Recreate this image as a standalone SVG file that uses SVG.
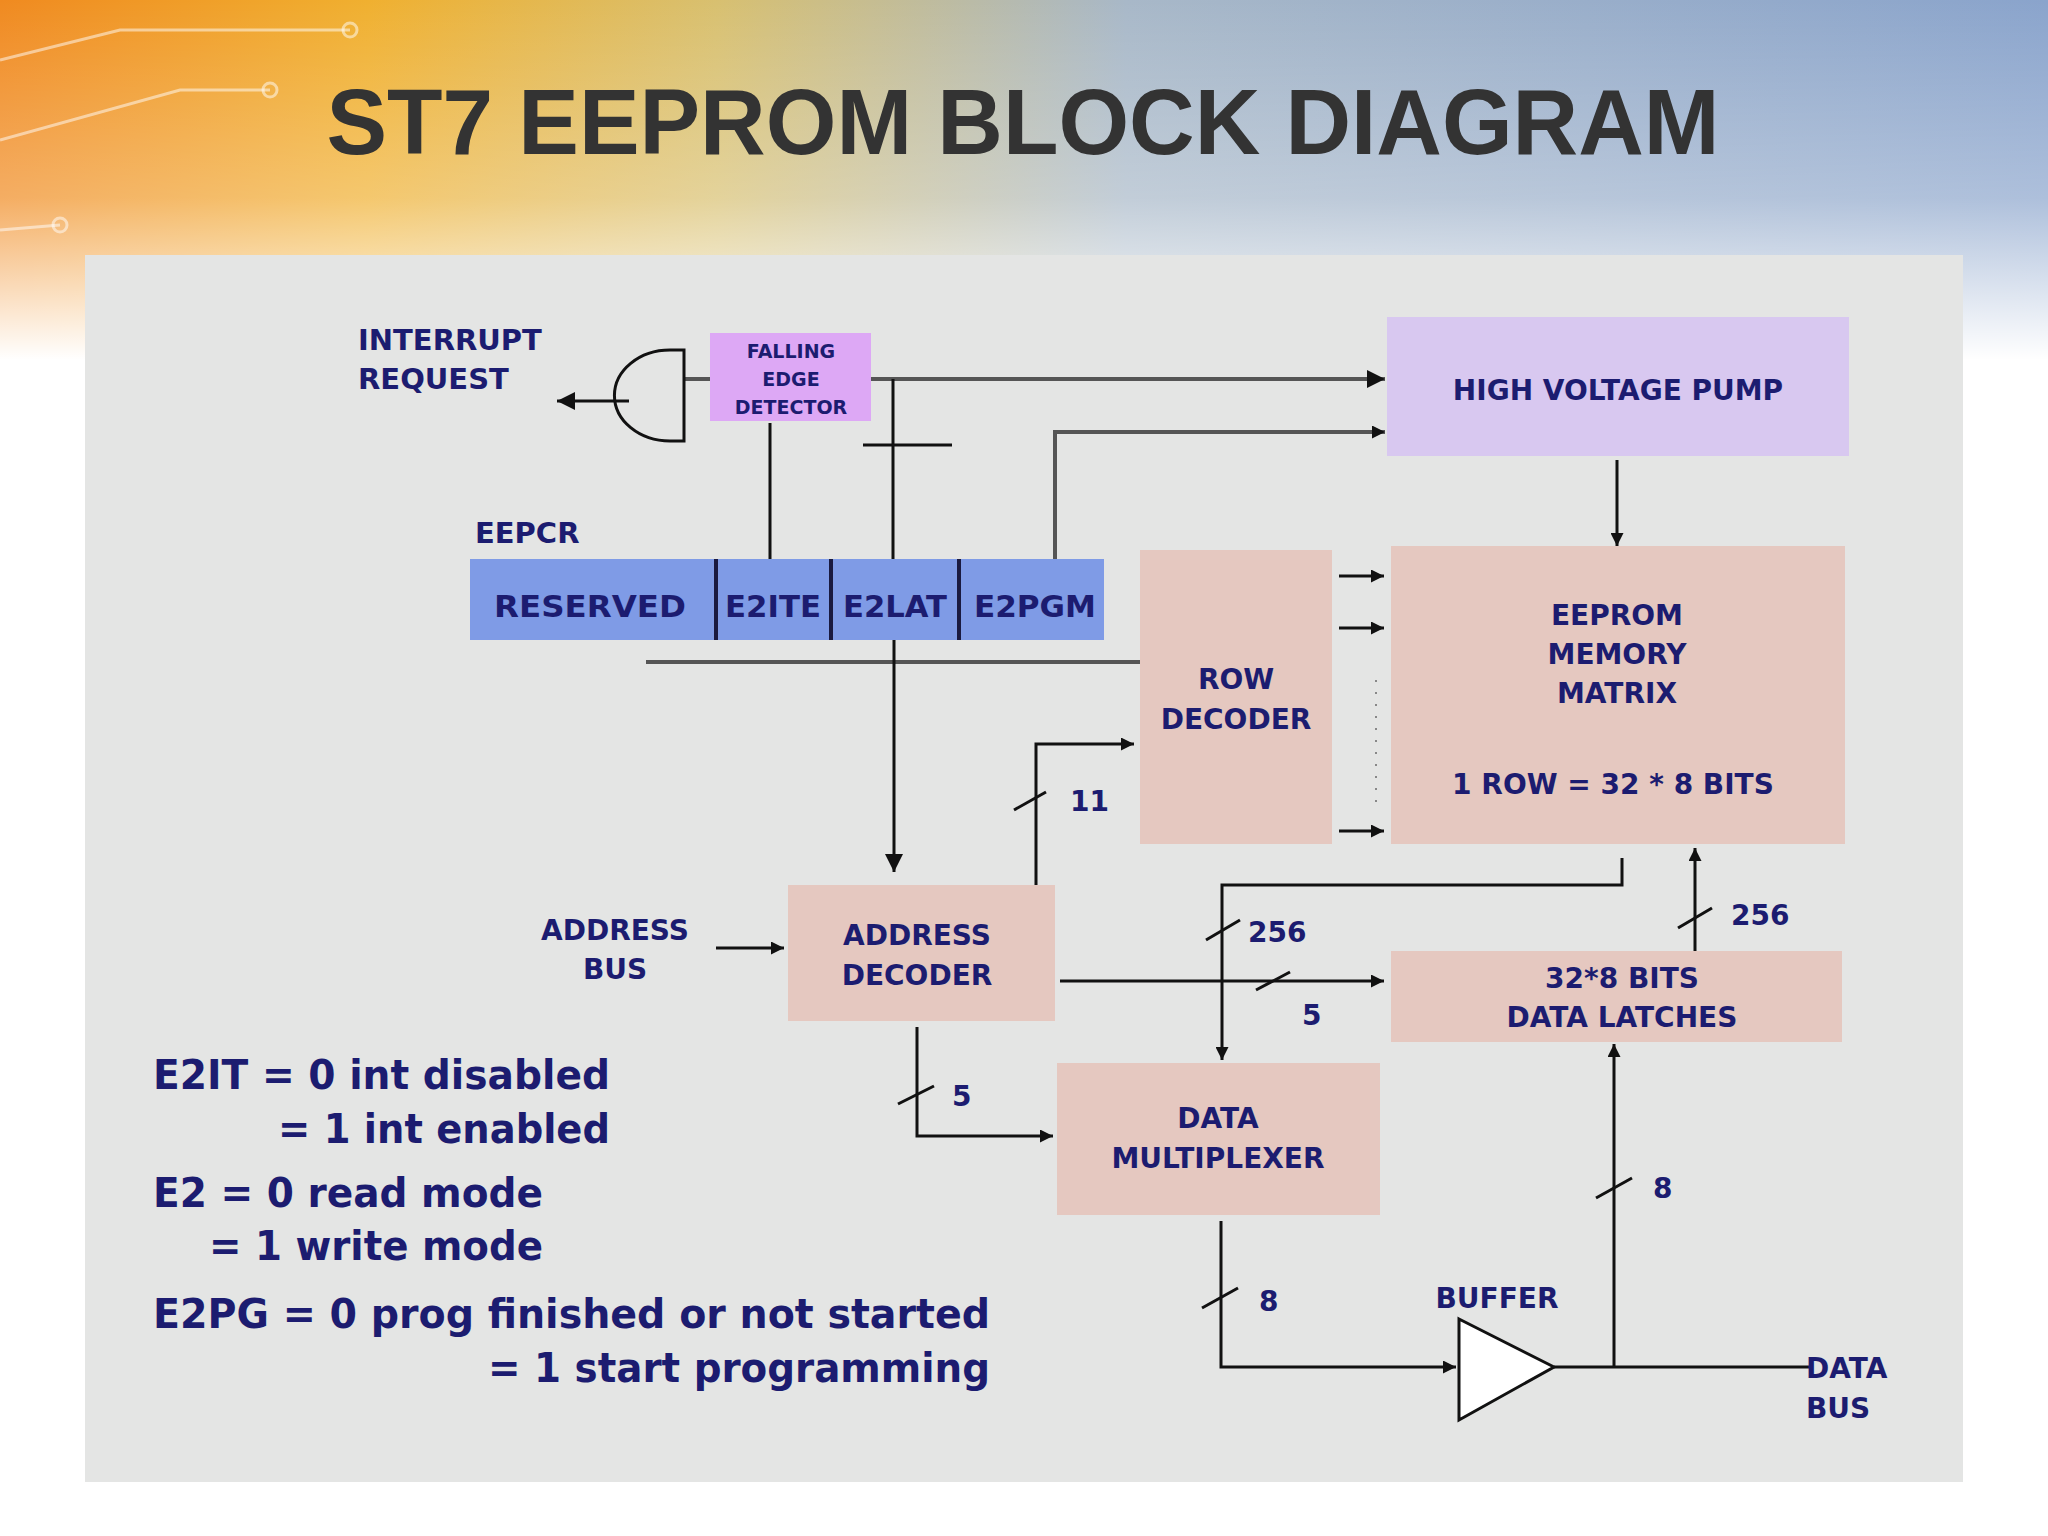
<svg xmlns="http://www.w3.org/2000/svg" width="2048" height="1536" viewBox="0 0 2048 1536">
<defs>
<linearGradient id="bgH" x1="0" y1="0" x2="1" y2="0">
<stop offset="0" stop-color="#f08a20"/><stop offset="0.18" stop-color="#f0b030"/><stop offset="0.35" stop-color="#d8c070"/><stop offset="0.55" stop-color="#a8b8c8"/><stop offset="1" stop-color="#8aa4cc"/>
</linearGradient>
<linearGradient id="fade" x1="0" y1="0" x2="0" y2="1">
<stop offset="0" stop-color="#fff" stop-opacity="0"/><stop offset="0.55" stop-color="#fff" stop-opacity="0.3"/><stop offset="1" stop-color="#fff" stop-opacity="1"/>
</linearGradient>
<marker id="ar" viewBox="0 0 10 10" refX="10" refY="5" markerWidth="13" markerHeight="13" markerUnits="userSpaceOnUse" orient="auto"><path d="M0,0 L10,5 L0,10 z" fill="#111"/></marker>
<marker id="arB" viewBox="0 0 10 10" refX="10" refY="5" markerWidth="26" markerHeight="18" markerUnits="userSpaceOnUse" orient="auto"><path d="M0,0 L10,5 L0,10 z" fill="#111"/></marker>
<style>
.t{font-family:"DejaVu Sans",Verdana,sans-serif;font-weight:bold;fill:#1c1c70}
.b{font-size:28px;text-anchor:middle}
.n{font-size:40px}
.w{stroke:#111;stroke-width:3;fill:none}
.g{stroke:#555;stroke-width:4;fill:none}
</style>
</defs>
<rect width="2048" height="1536" fill="#fff"/>
<rect width="2048" height="360" fill="url(#bgH)"/>
<rect width="2048" height="360" fill="url(#fade)"/>
<g stroke="#fff" stroke-opacity="0.5" stroke-width="3" fill="none">
<path d="M0,60 L120,30 L350,30"/><circle cx="350" cy="30" r="7"/>
<path d="M0,140 L180,90 L270,90"/><circle cx="270" cy="90" r="7"/>
<path d="M0,230 L60,225"/><circle cx="60" cy="225" r="7"/>
</g>
<text x="1023" y="154" style="font-family:'Liberation Sans',Arial,sans-serif;font-weight:bold;font-size:92px;fill:#333;text-anchor:middle" textLength="1393" lengthAdjust="spacingAndGlyphs">ST7 EEPROM BLOCK DIAGRAM</text>
<rect x="85" y="255" width="1878" height="1227" fill="#e4e5e4"/>

<g id="connectors">
<path class="w" d="M629,401 L557,401" marker-end="url(#arB)"/>
<path class="g" d="M684,379 L710,379"/>
<path class="g" d="M871,379 L1385,379" marker-end="url(#arB)"/>
<path class="w" d="M893,379 L893,559"/>
<path class="w" d="M863,445 L952,445"/>
<path class="w" d="M770,423 L770,559"/>
<path class="g" d="M1055,559 L1055,432 L1385,432" marker-end="url(#ar)"/>
<path class="g" d="M646,662 L1140,662"/>
<path class="w" d="M894,640 L894,872" marker-end="url(#arB)"/>
<path class="w" d="M1036,885 L1036,744 L1134,744" marker-end="url(#ar)"/>
<path class="w" d="M1014,810 L1046,792"/>
<path class="w" d="M1339,576 L1384,576" marker-end="url(#ar)"/>
<path class="w" d="M1339,628 L1384,628" marker-end="url(#ar)"/>
<path class="w" d="M1339,831 L1384,831" marker-end="url(#ar)"/>
<path d="M1376,680 L1376,810" stroke="#888" stroke-width="2" stroke-dasharray="2,10"/>
<path class="w" d="M1617,460 L1617,546" marker-end="url(#ar)"/>
<path class="w" d="M1622,858 L1622,885 L1222,885 L1222,1060" marker-end="url(#ar)"/>
<path class="w" d="M1206,940 L1240,920"/>
<path class="w" d="M1695,951 L1695,848" marker-end="url(#ar)"/>
<path class="w" d="M1678,928 L1712,908"/>
<path class="w" d="M1060,981 L1384,981" marker-end="url(#ar)"/>
<path class="w" d="M1256,990 L1290,972"/>
<path class="w" d="M917,1027 L917,1136 L1053,1136" marker-end="url(#ar)"/>
<path class="w" d="M898,1104 L934,1086"/>
<path class="w" d="M1221,1221 L1221,1367 L1456,1367" marker-end="url(#ar)"/>
<path class="w" d="M1202,1308 L1238,1288"/>
<path class="w" d="M1554,1367 L1809,1367"/>
<path class="w" d="M1614,1367 L1614,1044" marker-end="url(#ar)"/>
<path class="w" d="M1596,1198 L1632,1178"/>
<path class="w" d="M716,948 L784,948" marker-end="url(#ar)"/>
</g>

<g id="gate"><path d="M684,350 L670,350 A55,45 0 0 0 670,441 L684,441 Z" class="w" stroke-width="4"/></g>
<g id="fed"><rect x="710" y="333" width="161" height="88" fill="#dda8f5"/>
<text class="t" style="font-size:19px;text-anchor:middle"><tspan x="791" y="358">FALLING</tspan><tspan x="791" y="386">EDGE</tspan><tspan x="791" y="414">DETECTOR</tspan></text></g>
<g id="hvp"><rect x="1387" y="317" width="462" height="139" fill="#d8c8f0"/><text x="1618" y="400" class="t b">HIGH VOLTAGE PUMP</text></g>
<g id="eepcr"><text x="475" y="543" class="t" style="font-size:29px">EEPCR</text>
<rect x="470" y="559" width="634" height="81" fill="#7f9be6"/>
<path d="M716,559 V640 M831,559 V640 M959,559 V640" stroke="#1a1a40" stroke-width="4"/>
<text class="t" style="font-size:30px;text-anchor:middle"><tspan x="590" y="617" textLength="192" lengthAdjust="spacingAndGlyphs">RESERVED</tspan><tspan x="773" y="617" textLength="96" lengthAdjust="spacingAndGlyphs">E2ITE</tspan><tspan x="895" y="617" textLength="104" lengthAdjust="spacingAndGlyphs">E2LAT</tspan><tspan x="1035" y="617" textLength="122" lengthAdjust="spacingAndGlyphs">E2PGM</tspan></text></g>
<text class="t" style="font-size:29px"><tspan x="358" y="350">INTERRUPT</tspan><tspan x="358" y="389">REQUEST</tspan></text>
<g id="rowdec"><rect x="1140" y="550" width="192" height="294" fill="#e5c8c0"/><text class="t b"><tspan x="1236" y="689">ROW</tspan><tspan x="1236" y="729">DECODER</tspan></text></g>
<g id="matrix"><rect x="1391" y="546" width="454" height="298" fill="#e5c8c0"/><text class="t b"><tspan x="1617" y="625">EEPROM</tspan><tspan x="1617" y="664">MEMORY</tspan><tspan x="1617" y="703">MATRIX</tspan><tspan x="1613" y="794">1 ROW = 32 * 8 BITS</tspan></text></g>
<g id="addrdec"><rect x="788" y="885" width="267" height="136" fill="#e5c8c0"/><text class="t b"><tspan x="917" y="945">ADDRESS</tspan><tspan x="917" y="985">DECODER</tspan></text></g>
<text class="t b"><tspan x="615" y="940">ADDRESS</tspan><tspan x="615" y="979">BUS</tspan></text>
<g id="latches"><rect x="1391" y="951" width="451" height="91" fill="#e5c8c0"/><text class="t b"><tspan x="1622" y="988">32*8 BITS</tspan><tspan x="1622" y="1027">DATA LATCHES</tspan></text></g>
<g id="mux"><rect x="1057" y="1063" width="323" height="152" fill="#e5c8c0"/><text class="t b"><tspan x="1218" y="1128">DATA</tspan><tspan x="1218" y="1168">MULTIPLEXER</tspan></text></g>
<g id="buffer"><path d="M1459,1319 L1554,1367 L1459,1420 Z" fill="#fff" stroke="#111" stroke-width="3"/><text x="1497" y="1308" class="t b">BUFFER</text></g>
<text class="t" style="font-size:28px"><tspan x="1806" y="1378">DATA</tspan><tspan x="1806" y="1418">BUS</tspan></text>
<g class="t" style="font-size:28px">
<text x="1070" y="811">11</text><text x="1248" y="942">256</text><text x="1731" y="925">256</text><text x="1302" y="1025">5</text><text x="952" y="1106">5</text><text x="1259" y="1311">8</text><text x="1653" y="1198">8</text>
</g>
<g id="notes" class="t n">
<text x="153" y="1089" textLength="457" lengthAdjust="spacingAndGlyphs">E2IT = 0 int disabled</text>
<text x="278" y="1143" textLength="332" lengthAdjust="spacingAndGlyphs">= 1 int enabled</text>
<text x="153" y="1207" textLength="390" lengthAdjust="spacingAndGlyphs">E2 = 0 read mode</text>
<text x="209" y="1260" textLength="334" lengthAdjust="spacingAndGlyphs">= 1 write mode</text>
<text x="153" y="1328" textLength="837" lengthAdjust="spacingAndGlyphs">E2PG = 0 prog finished or not started</text>
<text x="488" y="1382" textLength="502" lengthAdjust="spacingAndGlyphs">= 1 start programming</text>
</g>
</svg>
